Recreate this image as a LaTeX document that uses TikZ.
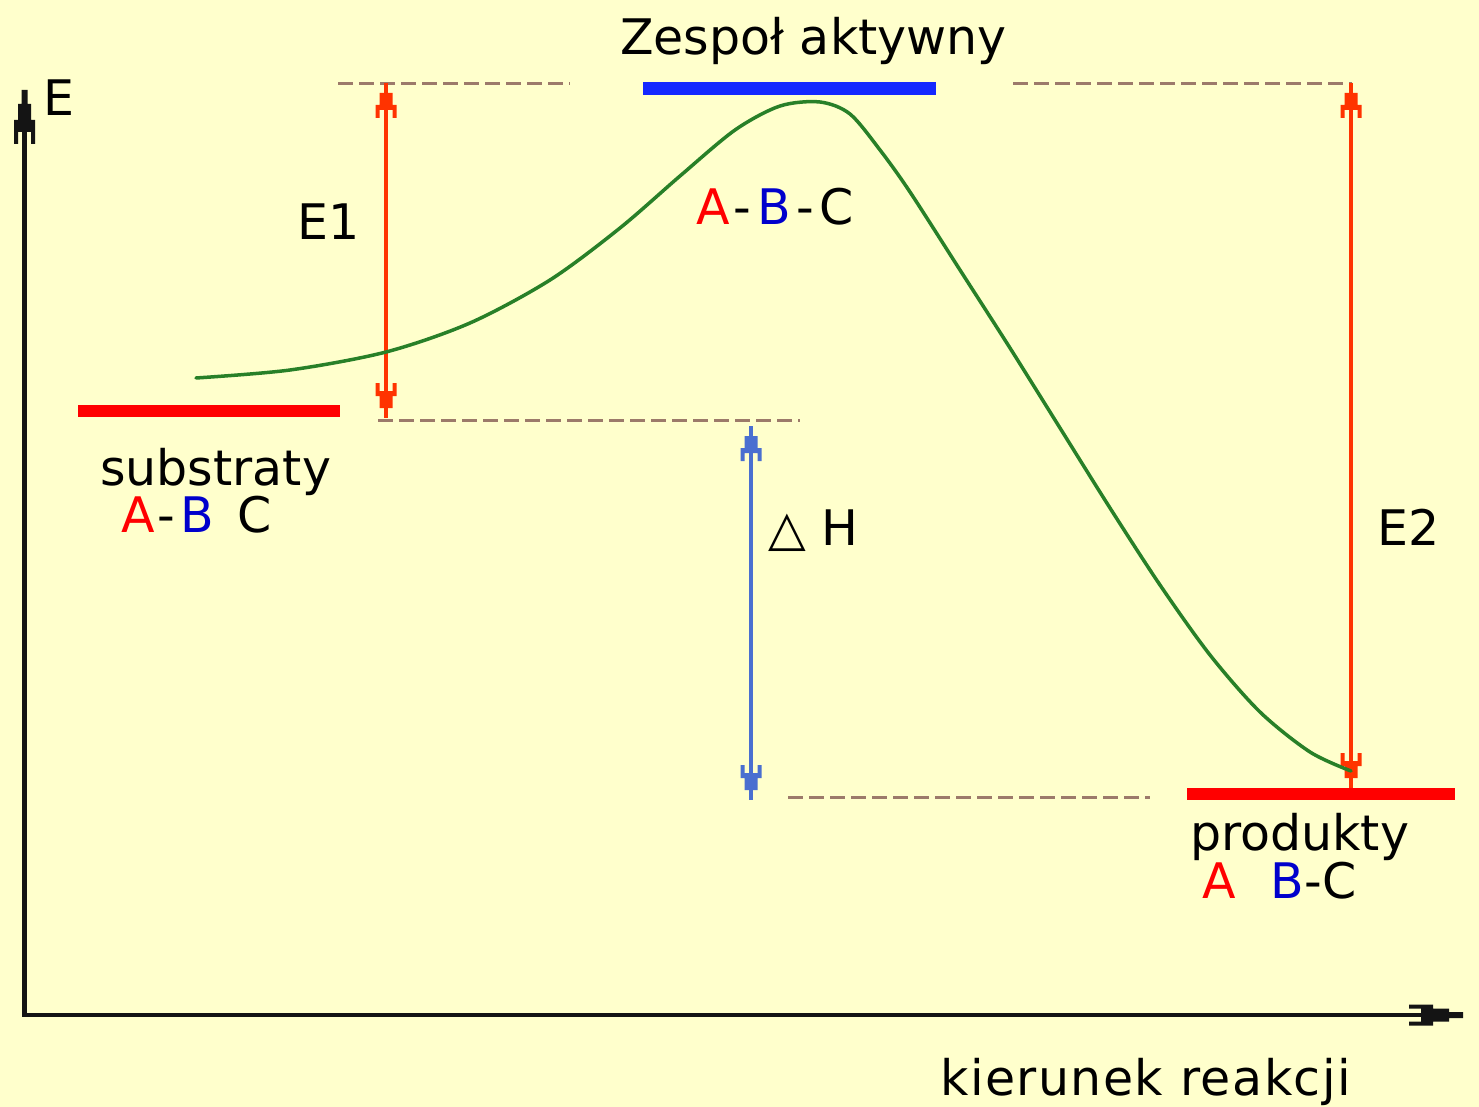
\documentclass[tikz,border=0pt]{standalone}
\usepackage{fontspec}
\setmainfont{DejaVu Sans}
\usetikzlibrary{arrows.meta}
\definecolor{bg}{RGB}{255,255,204}
\definecolor{arrred}{RGB}{255,51,0}
\definecolor{barred}{RGB}{255,0,0}
\definecolor{barblue}{RGB}{20,40,255}
\definecolor{arrblue}{RGB}{74,111,208}
\definecolor{curvegreen}{RGB}{40,128,40}
\definecolor{dashbrown}{RGB}{156,122,106}
\definecolor{txtred}{RGB}{255,0,0}
\definecolor{txtblue}{RGB}{0,0,204}
\definecolor{axisblack}{RGB}{20,20,20}

\pgfdeclarearrow{
  name=Fork,
  setup code={
    \pgfarrowssettipend{0pt}
    \pgfarrowssetlineend{0pt}
    \pgfarrowssetbackend{-35pt}
    \pgfarrowshullpoint{0pt}{6.5pt}
    \pgfarrowshullpoint{0pt}{-6.5pt}
    \pgfarrowshullpoint{-35pt}{10.5pt}
    \pgfarrowshullpoint{-35pt}{-10.5pt}
  },
  drawing code={
    \pgfpathrectanglecorners{\pgfpoint{-22pt}{-6.5pt}}{\pgfpoint{-10pt}{6.5pt}}
    \pgfpathrectanglecorners{\pgfpoint{-27pt}{-10.5pt}}{\pgfpoint{-22pt}{10.5pt}}
    \pgfpathrectanglecorners{\pgfpoint{-35pt}{6.5pt}}{\pgfpoint{-27pt}{10.5pt}}
    \pgfpathrectanglecorners{\pgfpoint{-35pt}{-10.5pt}}{\pgfpoint{-27pt}{-6.5pt}}
    \pgfusepathqfill
  }
}

\pgfdeclarearrow{
  name=AxisFork,
  setup code={
    \pgfarrowssettipend{0pt}
    \pgfarrowssetlineend{-10pt}
    \pgfarrowssetbackend{-54pt}
    \pgfarrowshullpoint{0pt}{4pt}
    \pgfarrowshullpoint{0pt}{-4pt}
    \pgfarrowshullpoint{-54pt}{10.5pt}
    \pgfarrowshullpoint{-54pt}{-10.5pt}
  },
  drawing code={
    \pgfpathrectanglecorners{\pgfpoint{-14pt}{-3pt}}{\pgfpoint{0pt}{3pt}}
    \pgfpathrectanglecorners{\pgfpoint{-38pt}{-6.5pt}}{\pgfpoint{-14pt}{6.5pt}}
    \pgfpathrectanglecorners{\pgfpoint{-42pt}{-10.5pt}}{\pgfpoint{-30pt}{10.5pt}}
    \pgfpathrectanglecorners{\pgfpoint{-54pt}{6.5pt}}{\pgfpoint{-42pt}{10.5pt}}
    \pgfpathrectanglecorners{\pgfpoint{-54pt}{-10.5pt}}{\pgfpoint{-42pt}{-6.5pt}}
    \pgfusepathqfill
  }
}

\begin{document}
\begin{tikzpicture}[x=1pt,y=-1pt,
  lbl/.style={inner sep=0pt,anchor=base west,font=\fontsize{49}{58}\selectfont},
  guide/.style={dashbrown,line width=3pt,dash pattern=on 15pt off 6pt},
  level/.style={line width=12pt},
  energy/.style={line width=4pt,{Fork}-{Fork}},
  axis/.style={color=axisblack,line width=4.5pt,{AxisFork}-{AxisFork}}]
\fill[bg] (0,0) rectangle (1479,1107);
\useasboundingbox (0,0) rectangle (1479,1107);

% axes
\coordinate (O) at (24.5,1015);
\coordinate (Ytip) at (24.5,90);
\coordinate (Xtip) at (1463,1015);
\draw[axis] (Ytip) -- (O) -- (Xtip);

% dashed guide lines
\coordinate (d1a) at (338,83.5);  \coordinate (d1b) at (570,83.5);
\coordinate (d2a) at (1013,83.5); \coordinate (d2b) at (1352,83.5);
\coordinate (d3a) at (378,420);   \coordinate (d3b) at (800,420);
\coordinate (d4a) at (788,797);   \coordinate (d4b) at (1150,797);
\draw[guide] (d1a) -- (d1b);
\draw[guide] (d2a) -- (d2b);
\draw[guide] (d3a) -- (d3b);
\draw[guide] (d4a) -- (d4b);

% energy levels
\coordinate (s1) at (78,411);    \coordinate (s2) at (340,411);
\coordinate (t1) at (643,88.5);  \coordinate (t2) at (936,88.5);
\coordinate (p1) at (1187,794);  \coordinate (p2) at (1455,794);
\draw[level,barred] (s1) -- (s2);
\draw[level,barblue,line width=13pt] (t1) -- (t2);
\draw[level,barred] (p1) -- (p2);

% energy arrows
\coordinate (e1t) at (386,83);   \coordinate (e1b) at (386,418);
\coordinate (e2t) at (1351,83);  \coordinate (e2b) at (1351,788);
\coordinate (ht) at (751,426);   \coordinate (hb) at (751,800);
\draw[energy,color=arrred] (e1t) -- (e1b);
\draw[energy,color=arrred] (e2t) -- (e2b);
\draw[energy,color=arrblue] (ht) -- (hb);

% reaction curve
\draw[curvegreen,line width=3.5pt,line cap=round] plot[smooth,tension=0.5] coordinates {
 (196,378) (290,370) (386,352) (470,323) (550,280) (620,228) (680,176)
 (735,130) (780,106) (820,102) (850,114) (880,150) (910,192) (960,270)
 (1010,348) (1060,428) (1110,508) (1160,585) (1210,655) (1260,712)
 (1310,752) (1351,771)};

% labels
\node[lbl] (Elbl) at (43,116) {E};
\node[lbl] (zesp) at (620,55) {Zespoł aktywny};
\node[lbl] (E1lbl) at (297,240) {E1};
\node[lbl] (sub) at (100,485) {substraty};
\node[lbl] (subf) at (121,532) {\textcolor{txtred}{A}\hspace{3pt}-\hspace{5pt}\textcolor{txtblue}{B}\hspace{8pt} C};
\node[lbl] (abc) at (696,225) {\textcolor{txtred}{A}\hspace{4pt}-\hspace{6pt}\textcolor{txtblue}{B}\hspace{5pt}-\hspace{6pt}C};
\node[lbl] (dH) at (768,545) {△ H};
\node[lbl] (E2lbl) at (1377,545) {E2};
\node[lbl] (prod) at (1190,850) {produkty};
\node[lbl] (prodf) at (1202,898) {\textcolor{txtred}{A}\hspace{35pt}\textcolor{txtblue}{B}-C};
\node[lbl] (kier) at (940,1095) {\addfontfeature{LetterSpace=3}kierunek reakcji};
\end{tikzpicture}
\end{document}
